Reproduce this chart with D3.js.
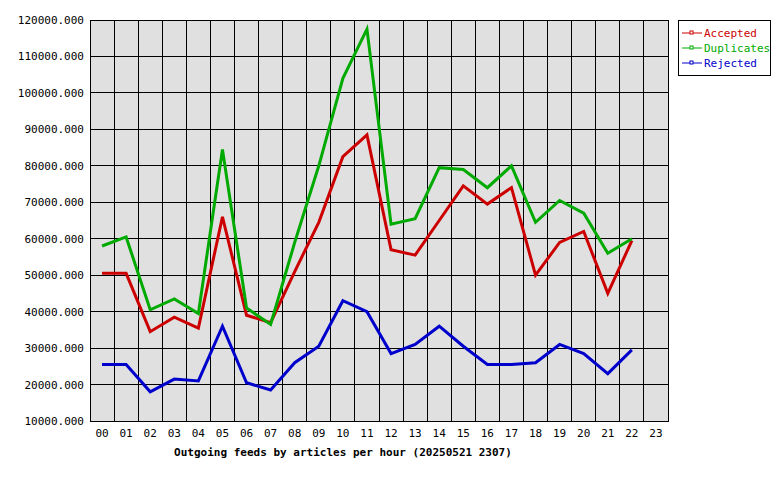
<!DOCTYPE html>
<html><head><meta charset="utf-8">
<script src="https://cdn.jsdelivr.net/npm/d3@7"></script>
<style>body{margin:0;background:#fff}text{font-family:"DejaVu Sans Mono",monospace}</style>
</head><body><svg width="780" height="480"></svg>
<script>
const hours = d3.range(24).map(h => String(h).padStart(2, "0"))
const accepted = [50500,50500,34500,38500,35500,66000,39000,37000,51000,64500,82500,88500,57000,55500,65000,74500,69500,74000,50000,59000,62000,45000,59500]
const duplicates = [58000,60500,40500,43500,39500,84500,41000,36500,59000,80000,104000,117500,64000,65500,79500,79000,74000,80000,64500,70500,67000,56000,60000]
const rejected = [25500,25500,18000,21500,21000,36000,20500,18500,26000,30500,43000,40000,28500,31000,36000,30500,25500,25500,26000,31000,28500,23000,29500]
const series = [
  { name: "Accepted", values: accepted, color: "#cc0000" },
  { name: "Duplicates", values: duplicates, color: "#00aa00" },
  { name: "Rejected", values: rejected, color: "#0000cc" },
]
const yTicks = d3.range(10000, 120001, 10000)

const svg = d3.select("svg")
const pLeft = 90, pRight = 668, pTop = 20, pBottom = 421

const x = d3.scaleBand().domain(hours).range([pLeft, pRight])
const y = d3.scaleLinear().domain([10000, 120000]).range([pBottom, pTop])

svg.append("rect").attr("x", pLeft).attr("y", pTop)
  .attr("width", pRight - pLeft).attr("height", pBottom - pTop)
  .attr("fill", "#e0e0e0")

const grid = svg.append("g").attr("stroke", "#000").attr("stroke-width", 1).attr("shape-rendering", "crispEdges")
yTicks.forEach(t => grid.append("line").attr("x1", pLeft).attr("x2", pRight).attr("y1", y(t)).attr("y2", y(t)))
hours.forEach(h => grid.append("line").attr("x1", x(h)).attr("x2", x(h)).attr("y1", pTop).attr("y2", pBottom))
grid.append("rect").attr("x", pLeft).attr("y", pTop).attr("width", pRight - pLeft).attr("height", pBottom - pTop).attr("fill", "none")

svg.append("g").selectAll("text").data(yTicks).join("text")
  .attr("x", pLeft - 6).attr("y", d => y(d) + 4)
  .attr("text-anchor", "end").attr("font-size", 11)
  .text(d => d + ".000")

svg.append("g").selectAll("text").data(hours).join("text")
  .attr("x", d => x(d) + x.bandwidth() / 2).attr("y", pBottom + 16)
  .attr("text-anchor", "middle").attr("font-size", 11)
  .text(d => d)

const line = d3.line().x((d, i) => x(hours[i]) + x.bandwidth() / 2).y(d => y(d))
series.forEach(s => {
  svg.append("path").datum(s.values).attr("d", line)
    .attr("fill", "none").attr("stroke", s.color).attr("stroke-width", 3)
})

svg.append("text").attr("x", 343).attr("y", 456).attr("text-anchor", "middle")
  .attr("font-size", 11).attr("font-weight", "bold")
  .text("Outgoing feeds by articles per hour (20250521 2307)")

const legend = svg.append("g")
legend.append("rect").attr("x", 678.5).attr("y", 20.5).attr("width", 92).attr("height", 55)
  .attr("fill", "#fff").attr("stroke", "#000")
series.forEach((s, i) => {
  const ly = 33 + i * 15
  legend.append("line").attr("x1", 682).attr("x2", 702).attr("y1", ly).attr("y2", ly).attr("stroke", s.color)
  legend.append("rect").attr("x", 690).attr("y", ly - 2).attr("width", 3).attr("height", 3)
    .attr("fill", "#fff").attr("stroke", s.color).attr("stroke-width", 1)
  legend.append("text").attr("x", 704).attr("y", ly + 4).attr("font-size", 11)
    .attr("fill", s.color).text(s.name)
})
</script></body></html>
